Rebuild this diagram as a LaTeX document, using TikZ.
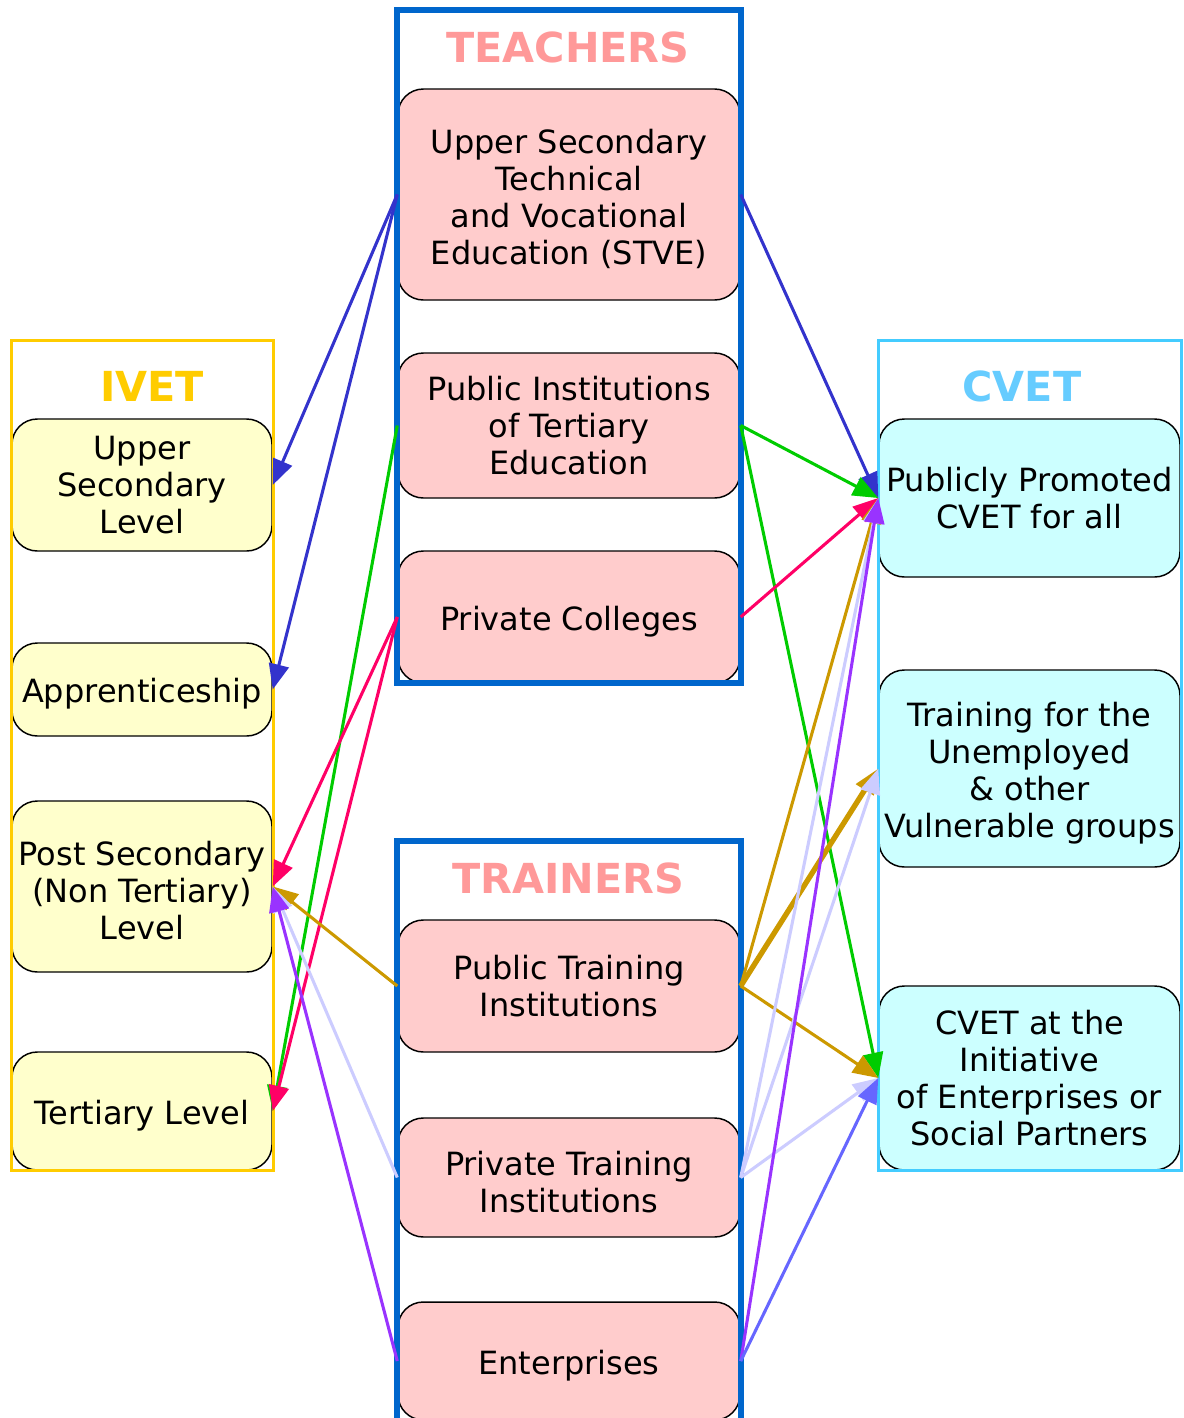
\documentclass[tikz,border=0pt]{standalone}
\usepackage{fontspec}
\setmainfont{DejaVu Sans}
\usetikzlibrary{arrows.meta}
\definecolor{ivetgold}{HTML}{FFCC00}
\definecolor{ivetfill}{HTML}{FFFFCC}
\definecolor{tblue}{HTML}{0066CC}
\definecolor{tfill}{HTML}{FFCCCC}
\definecolor{ttitle}{HTML}{FF9999}
\definecolor{cborder}{HTML}{44CCFF}
\definecolor{cfill}{HTML}{CCFFFF}
\definecolor{ctitle}{HTML}{66CCFF}
\definecolor{aBlue}{HTML}{3333CC}
\definecolor{aGreen}{HTML}{00CC00}
\definecolor{aPink}{HTML}{FF0066}
\definecolor{aGold}{HTML}{CC9900}
\definecolor{aLav}{HTML}{CCCCFF}
\definecolor{aPurple}{HTML}{9933FF}
\definecolor{aPeri}{HTML}{6666FF}
\newcommand{\tstrutx}{\rule{0pt}{24.5pt}}
\tikzset{
  box/.style={draw=black, line width=1.1pt, rounded corners=19pt, inner sep=0pt,
    align=center, font=\fontsize{24pt}{27.75pt}\selectfont},
  ivetbox/.style={box, fill=ivetfill, minimum width=195pt},
  tbox/.style={box, fill=tfill, minimum width=256.5pt},
  cbox/.style={box, fill=cfill, minimum width=225.75pt},
  ttl/.style={font=\fontsize{31pt}{31pt}\selectfont\bfseries, inner sep=0pt},
  conn/.style={line width=2.3pt, -{Triangle[length=19pt,width=15pt]}},
}
\begin{document}
\begin{tikzpicture}[x=0.75pt,y=-0.75pt]
\clip (0,0) rectangle (1183,1418);
\fill[white] (0,0) rectangle (1183,1418);
% IVET boxes
\node[ivetbox, minimum height=99pt] (usl) at (142,485) {Upper\\Secondary\\Level};
\node[ivetbox, minimum height=69.75pt] (app) at (142,689.5) {\tstrutx Apprenticeship};
\node[ivetbox, minimum height=128.25pt] (pst) at (142,886.5) {\tstrutx Post Secondary\\(Non Tertiary)\\Level};
\node[ivetbox, minimum height=88.5pt] (ter) at (142,1111) {\tstrutx Tertiary Level};
% Teachers boxes
\node[tbox, minimum height=158.25pt] (stve) at (569,194.5) {\tstrutx Upper Secondary\\Technical\\and Vocational\\Education (STVE)};
\node[tbox, minimum height=108.75pt] (pit) at (569,425.5) {Public Institutions\\of Tertiary\\Education};
\node[tbox, minimum height=99pt] (pc) at (569,617) {\tstrutx Private Colleges};
% Trainers boxes
\node[tbox, minimum height=99pt] (ptr) at (569,986) {Public Training\\Institutions};
\node[tbox, minimum height=89.25pt] (prt) at (569,1177.5) {\tstrutx Private Training\\Institutions};
\node[tbox, minimum height=88.5pt] (ent) at (569,1361) {\tstrutx Enterprises};
% CVET boxes
\node[cbox, minimum height=118.5pt] (ppc) at (1029.5,498) {Publicly Promoted\\CVET for all};
\node[cbox, minimum height=147.75pt] (tfu) at (1029.5,768.5) {\tstrutx Training for the\\Unemployed\\\& other\\Vulnerable groups};
\node[cbox, minimum height=138pt] (cei) at (1029.5,1078) {CVET at the\\Initiative\\of Enterprises or\\Social Partners};
% containers
\draw[ivetgold, line width=2.25pt] (11,340) rectangle (273,1170);
\draw[tblue, line width=4.5pt] (397,10) rectangle (741,683);
\draw[tblue, line width=4.5pt] (397,841) rectangle (741,1450);
\draw[cborder, line width=2.25pt] (878,340) rectangle (1181,1170);
% titles
\node[ttl, text=ivetgold] (ivett) at (152,386) {IVET};
\node[ttl, text=ttitle] (teat) at (568,47) {TEACHERS};
\node[ttl, text=ttitle] (trat) at (568,878) {TRAINERS};
\node[ttl, text=ctitle] (cvett) at (1022,386) {CVET};
% connectors
\draw[conn, aBlue] (stve.west) -- (usl.east);
\draw[conn, aBlue] (stve.west) -- (app.east);
\draw[conn, aBlue] (stve.east) -- (ppc.west);
\draw[conn, aGreen] (pit.east) -- (ppc.west);
\draw[conn, aGreen] (pit.east) -- (cei.west);
\draw[conn, aGreen] (pit.west) -- (ter.east);
\draw[conn, aPink] (pc.west) -- (pst.east);
\draw[conn, aPink] (pc.west) -- (ter.east);
\draw[conn, aPink] (pc.east) -- (ppc.west);
\draw[conn, aGold] (ptr.west) -- (pst.east);
\draw[conn, aGold] (ptr.east) -- (ppc.west);
\draw[conn, aGold, line width=4pt] (ptr.east) -- (tfu.west);
\draw[conn, aGold] (ptr.east) -- (cei.west);
\draw[conn, aLav] (prt.west) -- (pst.east);
\draw[conn, aLav] (prt.east) -- (ppc.west);
\draw[conn, aLav] (prt.east) -- (tfu.west);
\draw[conn, aLav] (prt.east) -- (cei.west);
\draw[conn, aPurple] (ent.west) -- (pst.east);
\draw[conn, aPurple] (ent.east) -- (ppc.west);
\draw[conn, aPeri] (ent.east) -- (cei.west);
\end{tikzpicture}
\end{document}
